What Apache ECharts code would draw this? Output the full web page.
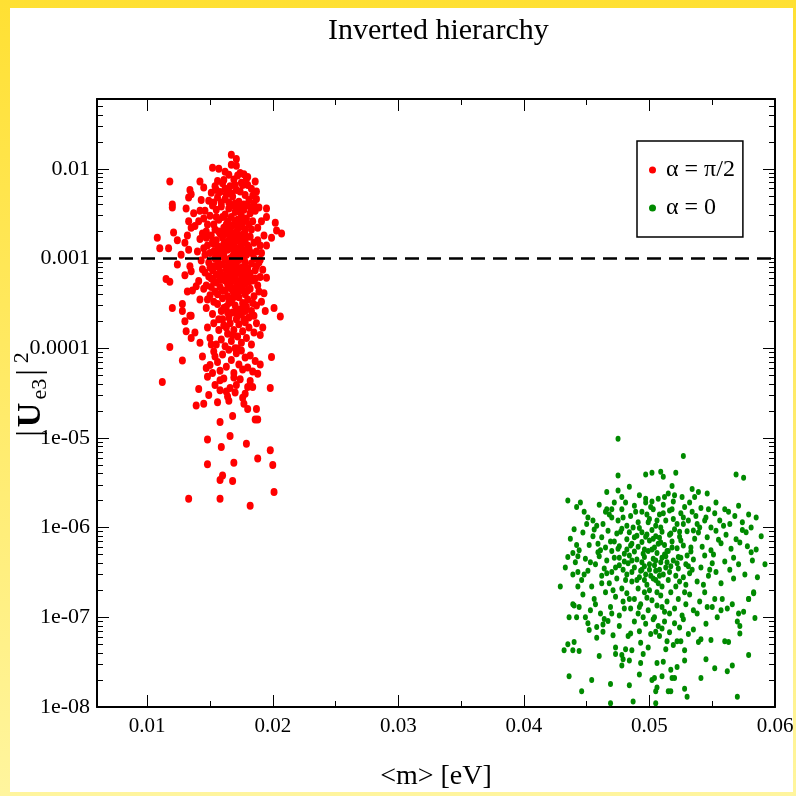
<!DOCTYPE html>
<html>
<head>
<meta charset="utf-8">
<script src="https://cdn.jsdelivr.net/npm/echarts@6/dist/echarts.min.js"></script>
<style>
  html, body { margin: 0; padding: 0; }
  body { width: 796px; height: 796px; background: linear-gradient(to bottom, #ffe033, #fff59e); position: relative; overflow: hidden; }
  #chart { position: absolute; left: 10px; top: 8px; width: 783px; height: 784px; background: #fff; }
</style>
</head>
<body>
<div id="chart"></div>
<script>
// alpha = pi/2 points: [<m> in eV, |Ue3|^2]
const redPoints = [
  [0.0108,1.7e-3],[0.0110,1.3e-3],[0.0117,1.3e-3],[0.0121,1.95e-3],[0.0124,1.6e-3],[0.0118,7.2e-3],[0.0120,4.0e-3],[0.0120,3.7e-3],
  [0.0115,5.9e-4],[0.0118,5.5e-4],[0.0120,2.8e-4],[0.0130,6.5e-4],[0.0124,8.6e-4],[0.0127,1.1e-3],[0.0131,3.6e-3],[0.0134,5.8e-3],
  [0.0133,4.8e-3],[0.0135,5.2e-3],[0.0142,7.2e-3],[0.0145,6.2e-3],[0.0143,4.5e-3],[0.0142,3.4e-3],[0.0133,2.6e-3],[0.0137,3.2e-3],
  [0.0135,2.2e-3],[0.0138,2.3e-3],[0.0132,1.8e-3],[0.0142,1.65e-3],[0.0130,1.5e-3],[0.0133,1.25e-3],[0.0134,8.2e-4],[0.0135,7.2e-4],
  [0.0139,4.9e-4],[0.0136,4.4e-4],[0.0132,4.3e-4],[0.0128,3.1e-4],[0.0128,2.6e-4],[0.0134,2.3e-4],
  [0.0167,1.43e-2],[0.0171,1.29e-2],[0.0167,1.11e-2],[0.0171,1.08e-2],[0.0152,1.03e-2],[0.0157,1.0e-2],[0.0162,9.3e-3],[0.0151,5.4e-3],
  [0.0149,4.4e-3],[0.0153,4.2e-3],[0.0154,6.4e-3],[0.0156,7.3e-3],[0.0161,7.5e-3],[0.0164,5.8e-3],[0.0174,9.0e-3],[0.0177,8.7e-3],
  [0.0180,8.1e-3],[0.0186,7.2e-3],[0.0187,5.6e-3],[0.0189,3.7e-3],[0.0195,3.6e-3],[0.0195,2.9e-3],[0.0202,2.5e-3],[0.0203,2.05e-3],
  [0.0207,1.9e-3],[0.0199,1.7e-3],[0.0193,1.8e-3],[0.0195,1.4e-3],[0.0190,1.4e-3],[0.0190,9.7e-4],[0.0187,8.2e-4],[0.0190,6.2e-4],
  [0.0195,6.1e-4],[0.0193,4.1e-4],[0.0194,2.6e-4],[0.0201,2.8e-4],[0.0206,2.25e-4],
  [0.0118,1.03e-4],[0.0128,7.3e-5],[0.0112,4.2e-5],[0.0130,2.0e-4],[0.0131,1.55e-4],[0.0135,1.3e-4],[0.0138,1.5e-4],[0.0135,2.3e-4],
  [0.0142,1.15e-4],[0.0144,8.1e-5],[0.0141,3.5e-5],[0.0139,2.3e-5],[0.0145,2.4e-5],[0.0149,3.0e-5],[0.0148,4.8e-5],[0.0147,6.0e-5],
  [0.0151,1.1e-4],[0.0154,8.1e-5],[0.0152,5.3e-5],[0.0154,3.9e-5],[0.0156,2.5e-5],[0.0158,3.4e-5],[0.0158,4.4e-5],[0.0165,2.6e-5],
  [0.0164,2.9e-5],[0.0166,3.6e-5],[0.0170,3.2e-5],[0.0171,3.9e-5],[0.0176,2.8e-5],[0.0177,2.4e-5],[0.0180,2.1e-5],[0.0180,3.7e-5],
  [0.0184,3.7e-5],[0.0182,4.3e-5],[0.0188,5.2e-5],[0.0190,6.6e-5],[0.0199,8.0e-5],[0.0198,3.6e-5],[0.0187,2.1e-5],[0.0188,1.6e-5],
  [0.0186,1.6e-5],[0.0168,1.75e-5],[0.0158,1.5e-5],[0.0166,1.05e-5],[0.0159,7.9e-6],[0.0148,9.6e-6],[0.0179,8.6e-6],[0.0198,7.3e-6],
  [0.0188,5.9e-6],[0.0200,5.0e-6],[0.0169,5.3e-6],[0.0148,5.1e-6],[0.0160,3.8e-6],[0.0158,3.4e-6],[0.0168,3.3e-6],[0.0201,2.5e-6],
  [0.0133,2.1e-6],[0.0158,2.1e-6],[0.0182,1.75e-6],
  [0.0158,5.5e-3],[0.0162,4.6e-3],[0.0166,6.4e-3],[0.0168,4.9e-3],[0.0171,5.8e-3],[0.0173,4.3e-3],[0.0176,6.6e-3],[0.0178,5.1e-3],
  [0.0181,4.5e-3],[0.0183,6.0e-3],[0.0169,7.6e-3],[0.0172,8.4e-3],[0.0175,7.0e-3],[0.0165,8.6e-3],[0.0160,6.9e-3],[0.0156,4.8e-3],
  [0.0163,5.2e-3],[0.0179,7.8e-3],[0.0184,5.0e-3],[0.0170,4.1e-3],
  [0.0150,3.0e-3],[0.0153,2.4e-3],[0.0155,3.5e-3],[0.0157,2.7e-3],[0.0159,3.8e-3],[0.0161,2.2e-3],[0.0162,3.1e-3],[0.0164,2.6e-3],
  [0.0165,3.6e-3],[0.0166,2.1e-3],[0.0167,2.9e-3],[0.0168,3.9e-3],[0.0169,2.4e-3],[0.0170,3.3e-3],[0.0171,2.0e-3],[0.0172,2.7e-3],
  [0.0173,3.7e-3],[0.0174,2.3e-3],[0.0175,3.0e-3],[0.0176,2.5e-3],[0.0177,3.5e-3],[0.0178,2.1e-3],[0.0179,2.8e-3],[0.0180,3.9e-3],
  [0.0181,2.4e-3],[0.0182,3.2e-3],[0.0184,2.6e-3],[0.0186,3.4e-3],[0.0188,2.2e-3],[0.0147,2.0e-3],[0.0152,3.9e-3],[0.0145,2.8e-3],
  [0.0163,2.0e-3],[0.0171,3.8e-3],
  [0.0148,1.4e-3],[0.0151,1.8e-3],[0.0153,1.2e-3],[0.0155,1.6e-3],[0.0156,1.05e-3],[0.0158,1.9e-3],[0.0159,1.3e-3],[0.0160,1.7e-3],
  [0.0161,1.1e-3],[0.0162,1.5e-3],[0.0163,1.9e-3],[0.0164,1.25e-3],[0.0165,1.6e-3],[0.0166,1.0e-3],[0.0167,1.4e-3],[0.0168,1.8e-3],
  [0.0169,1.15e-3],[0.0170,1.55e-3],[0.0171,1.95e-3],[0.0172,1.3e-3],[0.0173,1.7e-3],[0.0174,1.05e-3],[0.0175,1.45e-3],[0.0176,1.85e-3],
  [0.0177,1.2e-3],[0.0178,1.6e-3],[0.0179,1.1e-3],[0.0180,1.4e-3],[0.0182,1.75e-3],[0.0183,1.15e-3],[0.0185,1.5e-3],[0.0187,1.2e-3],
  [0.0165,1.3e-3],[0.0169,1.7e-3],[0.0173,1.1e-3],[0.0161,1.45e-3],[0.0177,1.5e-3],[0.0157,1.35e-3],
  [0.0146,7.0e-4],[0.0149,9.0e-4],[0.0151,6.0e-4],[0.0153,8.2e-4],[0.0155,5.4e-4],[0.0156,9.5e-4],[0.0158,7.1e-4],[0.0159,5.8e-4],
  [0.0160,8.6e-4],[0.0161,6.5e-4],[0.0162,9.8e-4],[0.0163,7.5e-4],[0.0164,5.2e-4],[0.0165,8.9e-4],[0.0166,6.8e-4],[0.0167,5.6e-4],
  [0.0168,9.2e-4],[0.0169,7.3e-4],[0.0170,6.1e-4],[0.0171,8.4e-4],[0.0172,5.3e-4],[0.0173,9.6e-4],[0.0174,7.0e-4],[0.0175,5.9e-4],
  [0.0176,8.0e-4],[0.0177,6.4e-4],[0.0178,9.1e-4],[0.0179,5.5e-4],[0.0180,7.7e-4],[0.0181,6.2e-4],[0.0183,8.8e-4],[0.0184,5.7e-4],
  [0.0186,7.4e-4],[0.0167,7.9e-4],[0.0163,6.0e-4],[0.0171,6.9e-4],[0.0158,8.5e-4],
  [0.0142,3.5e-4],[0.0145,4.6e-4],[0.0147,2.8e-4],[0.0150,3.9e-4],[0.0152,2.4e-4],[0.0154,4.3e-4],[0.0156,3.1e-4],[0.0158,4.8e-4],
  [0.0159,2.6e-4],[0.0160,3.6e-4],[0.0162,4.4e-4],[0.0163,2.9e-4],[0.0164,3.8e-4],[0.0165,2.2e-4],[0.0166,4.7e-4],[0.0167,3.3e-4],
  [0.0168,2.5e-4],[0.0169,4.1e-4],[0.0170,3.0e-4],[0.0171,4.9e-4],[0.0172,2.3e-4],[0.0173,3.7e-4],[0.0174,2.7e-4],[0.0175,4.5e-4],
  [0.0176,3.2e-4],[0.0177,2.1e-4],[0.0178,4.0e-4],[0.0179,2.9e-4],[0.0180,3.5e-4],[0.0182,4.6e-4],[0.0183,2.6e-4],[0.0185,3.8e-4],
  [0.0187,3.0e-4],[0.0189,4.3e-4],[0.0168,4.4e-4],[0.0161,2.8e-4],
  [0.0148,1.7e-4],[0.0150,1.3e-4],[0.0153,1.9e-4],[0.0155,1.1e-4],[0.0157,1.6e-4],[0.0159,1.25e-4],[0.0161,1.8e-4],[0.0162,1.05e-4],
  [0.0164,1.45e-4],[0.0166,1.9e-4],[0.0167,1.2e-4],[0.0169,1.6e-4],[0.0170,1.0e-4],[0.0172,1.35e-4],[0.0173,1.85e-4],[0.0175,1.15e-4],
  [0.0176,1.55e-4],[0.0178,1.95e-4],[0.0179,1.3e-4],[0.0181,1.7e-4],[0.0183,1.1e-4],[0.0185,1.5e-4],[0.0187,1.9e-4],[0.0190,1.4e-4],
  [0.0192,1.7e-4],[0.0168,1.4e-4],
  [0.0150,6.5e-5],[0.0153,9.2e-5],[0.0156,7.0e-5],[0.0158,5.6e-5],[0.0160,8.5e-5],[0.0163,6.2e-5],[0.0165,9.6e-5],[0.0167,7.4e-5],
  [0.0169,5.3e-5],[0.0171,8.8e-5],[0.0173,6.6e-5],[0.0175,9.4e-5],[0.0176,5.8e-5],[0.0178,7.9e-5],[0.0180,6.1e-5],[0.0182,8.3e-5],
  [0.0184,5.5e-5],[0.0186,7.2e-5],[0.0172,9.9e-5],
  [0.0161,4.6e-5],[0.0174,4.5e-5],[0.0178,3.1e-5],[0.0163,3.3e-5],[0.0169,4.7e-5],
  [0.0163,2.4e-3],[0.0166,1.8e-3],[0.0169,1.35e-3],[0.0171,1.05e-3],[0.0174,1.55e-3],[0.0176,1.25e-3],[0.0178,1.85e-3],[0.0181,1.3e-3],
  [0.0168,1.05e-3],[0.0172,1.8e-3],[0.0160,1.25e-3],[0.0164,8.0e-4],[0.0167,6.5e-4],[0.0170,9.0e-4],[0.0173,7.8e-4],[0.0175,6.6e-4],
  [0.0177,1.0e-3],[0.0179,7.3e-4],[0.0182,6.8e-4],[0.0166,5.1e-4],[0.0169,5.9e-4],[0.0172,4.1e-4],[0.0174,5.1e-4],[0.0176,4.4e-4],
  [0.0178,5.2e-4],[0.0180,4.4e-4],[0.0170,3.8e-4],[0.0165,3.2e-4],[0.0162,5.7e-4],[0.0158,6.3e-4],[0.0156,4.0e-4],[0.0160,4.4e-4],
  [0.0171,2.6e-4],[0.0175,2.4e-4],[0.0168,3.6e-4],[0.0164,2.5e-4],[0.0157,2.1e-4],[0.0153,3.3e-4],[0.0181,2.2e-4],[0.0184,3.2e-4],
  [0.0167,2.3e-3],[0.0170,2.6e-3],[0.0174,3.3e-3],[0.0165,4.2e-3],[0.0170,6.6e-3],[0.0177,4.0e-3],[0.0160,2.9e-3],[0.0157,2.0e-3],
  [0.0183,2.1e-3],[0.0185,4.1e-3],[0.0176,2.8e-4],[0.0163,1.7e-4],[0.0171,2.1e-4],[0.0178,2.6e-4],[0.0160,2.1e-4],[0.0166,1.6e-3],
  [0.0173,2.2e-3],
  [0.0141,2.6e-3],[0.0144,1.9e-3],[0.0146,3.4e-3],[0.0148,2.4e-3],[0.0150,1.15e-3],[0.0152,1.55e-3],[0.0154,2.1e-3],[0.0155,2.9e-3],
  [0.0140,1.2e-3],[0.0143,9.5e-4],[0.0145,1.3e-3],[0.0147,1.7e-3],[0.0149,6.3e-4],[0.0152,7.4e-4],[0.0154,1.0e-3],[0.0156,1.25e-3],
  [0.0157,8.0e-4],[0.0159,1.05e-3],[0.0141,5.6e-4],[0.0144,7.6e-4],[0.0147,5.0e-4],[0.0150,8.0e-4],[0.0153,5.6e-4],[0.0148,3.5e-4],
  [0.0151,4.8e-4],[0.0155,6.6e-4],[0.0185,1.0e-3],[0.0186,6.0e-4],[0.0188,1.6e-3],[0.0189,9.0e-4],[0.0191,1.15e-3],[0.0192,7.5e-4],
  [0.0191,2.6e-3],[0.0187,4.6e-3],[0.0183,3.5e-3],[0.0181,5.5e-4],[0.0188,5.0e-4],[0.0191,3.3e-4],[0.0185,2.3e-4],[0.0159,4.2e-3],
  [0.0155,5.8e-3],[0.0162,6.0e-3],[0.0167,5.3e-3],[0.0174,5.6e-3],[0.0180,6.6e-3],[0.0146,1.1e-3],[0.0153,1.45e-3]
];

// alpha = 0 points
const greenPoints = [
  [0.0475,9.8e-6],[0.0527,6.3e-6],[0.0475,3.8e-6],[0.0475,2.6e-6],[0.0497,3.9e-6],[0.0502,4.1e-6],[0.0509,4.2e-6],[0.0511,3.7e-6],
  [0.0521,4.1e-6],[0.0518,2.9e-6],[0.0484,2.85e-6],[0.0466,2.5e-6],[0.0435,2.0e-6],[0.0442,1.7e-6],[0.0569,3.9e-6],[0.0575,3.6e-6],
  [0.0571,1.75e-6],[0.0585,1.3e-6],[0.0581,1.0e-6],[0.0585,5.7e-7],[0.0582,4.3e-7],[0.0592,3.9e-7],[0.0583,1.9e-7],[0.0579,1.6e-7],
  [0.0429,2.2e-7],[0.0435,4.7e-7],[0.0439,5.2e-7],[0.0443,4.8e-7],[0.0439,3.0e-7],[0.0443,3.2e-7],[0.0442,6.4e-7],[0.0440,9.6e-7],
  [0.0451,1.3e-6],[0.0466,1.6e-6],[0.0481,1.9e-6],[0.0497,2.1e-6],[0.0507,2.1e-6],[0.0515,2.4e-6],[0.0520,2.3e-6],[0.0534,2.7e-6],
  [0.0539,2.5e-6],[0.0546,2.4e-6],[0.0536,2.2e-6],[0.0553,1.9e-6],
  [0.0436,2.2e-8],[0.0446,1.5e-8],[0.0454,2.0e-8],[0.0469,1.1e-8],[0.0469,1.8e-8],[0.0484,1.75e-8],[0.0487,1.15e-8],[0.0505,1.1e-8],
  [0.0530,1.3e-8],[0.0528,1.6e-8],[0.0517,1.5e-8],[0.0515,1.5e-8],[0.0505,1.5e-8],[0.0506,1.65e-8],[0.0502,2.0e-8],[0.0504,2.1e-8],
  [0.0510,2.2e-8],[0.0518,2.1e-8],[0.0520,2.1e-8],[0.0541,2.1e-8],[0.0570,1.3e-8],[0.0492,2.3e-8],[0.0460,3.7e-8],[0.0478,2.9e-8],
  [0.0484,3.3e-8],[0.0493,3.1e-8],[0.0506,3.1e-8],[0.0511,3.2e-8],[0.0517,2.6e-8],[0.0522,2.8e-8],[0.0528,3.3e-8],[0.0545,3.4e-8],
  [0.0552,2.7e-8],[0.0562,2.5e-8],[0.0566,2.9e-8],[0.0579,3.8e-8],[0.0432,4.3e-8],[0.0435,5.0e-8],[0.0440,5.3e-8],[0.0439,4.3e-8],
  [0.0444,4.2e-8],[0.0436,1.0e-7],[0.0442,1.0e-7],[0.0440,1.35e-7],[0.0444,1.3e-7],[0.0449,1.0e-7],[0.0451,8.6e-8],[0.0452,7.2e-8],
  [0.0458,5.9e-8],[0.0463,8.3e-8],[0.0463,6.9e-8],[0.0467,9.1e-8],[0.0471,6.3e-8],[0.0473,4.6e-8],[0.0473,3.9e-8],[0.0478,3.8e-8],
  [0.0481,4.4e-8],[0.0479,3.4e-8],[0.0483,6.2e-8],[0.0486,4.3e-8],[0.0493,5.2e-8],[0.0495,3.9e-8],[0.0499,4.6e-8],[0.0501,6.5e-8],
  [0.0505,6.9e-8],[0.0508,6.2e-8],[0.0510,7.5e-8],[0.0513,4.4e-8],[0.0514,5.4e-8],[0.0519,4.9e-8],[0.0522,5.4e-8],[0.0525,5.4e-8],
  [0.0528,4.3e-8],[0.0531,6.5e-8],[0.0535,7.3e-8],[0.0539,5.3e-8],[0.0541,5.7e-8],[0.0549,5.6e-8],[0.0560,5.4e-8],[0.0563,5.3e-8],
  [0.0572,6.6e-8],[0.0572,8.0e-8],[0.0570,9.0e-8],[0.0571,1.1e-7],[0.0575,1.15e-7],[0.0584,9.8e-8],[0.0579,1.6e-7],[0.0583,1.85e-7],
  [0.0562,1.25e-7],[0.0557,1.2e-7],[0.0558,1.6e-7],[0.0554,1.0e-7],[0.0546,1.3e-7],[0.0550,1.3e-7],[0.0538,1.1e-7],
  [0.0448,1.5e-6],[0.0455,1.2e-6],[0.0460,1.8e-6],[0.0463,1.1e-6],[0.0468,1.4e-6],[0.0472,1.9e-6],[0.0475,1.2e-6],[0.0478,1.6e-6],
  [0.0482,1.05e-6],[0.0485,1.35e-6],[0.0488,1.75e-6],[0.0491,1.15e-6],[0.0494,1.5e-6],[0.0497,1.9e-6],[0.0500,1.25e-6],[0.0503,1.6e-6],
  [0.0505,1.05e-6],[0.0508,1.4e-6],[0.0511,1.8e-6],[0.0513,1.2e-6],[0.0516,1.55e-6],[0.0519,1.95e-6],[0.0522,1.1e-6],[0.0525,1.45e-6],
  [0.0528,1.7e-6],[0.0531,1.2e-6],[0.0534,1.5e-6],[0.0538,1.1e-6],[0.0541,1.65e-6],[0.0545,1.3e-6],[0.0549,1.0e-6],[0.0552,1.45e-6],
  [0.0556,1.2e-6],[0.0560,1.6e-6],[0.0564,1.1e-6],[0.0568,1.35e-6],[0.0574,1.15e-6],[0.0579,1.4e-6],[0.0458,1.05e-6],[0.0470,1.6e-6],
  [0.0502,1.95e-6],[0.0527,1.3e-6],
  [0.0437,7.5e-7],[0.0444,5.6e-7],[0.0447,8.8e-7],[0.0452,6.4e-7],[0.0456,9.5e-7],[0.0459,5.3e-7],[0.0462,7.8e-7],[0.0465,6.0e-7],
  [0.0467,9.2e-7],[0.0470,5.5e-7],[0.0472,7.0e-7],[0.0474,8.6e-7],[0.0476,6.2e-7],[0.0478,9.7e-7],[0.0480,5.1e-7],[0.0482,7.4e-7],
  [0.0484,8.9e-7],[0.0486,6.6e-7],[0.0488,5.4e-7],[0.0490,8.1e-7],[0.0492,9.9e-7],[0.0494,6.9e-7],[0.0496,5.7e-7],[0.0498,8.4e-7],
  [0.0500,7.2e-7],[0.0502,9.4e-7],[0.0504,6.0e-7],[0.0506,5.2e-7],[0.0508,7.7e-7],[0.0510,9.0e-7],[0.0512,6.4e-7],[0.0514,5.5e-7],
  [0.0516,8.3e-7],[0.0518,7.0e-7],[0.0520,9.6e-7],[0.0522,5.9e-7],[0.0524,7.9e-7],[0.0527,6.3e-7],[0.0530,9.1e-7],[0.0533,5.4e-7],
  [0.0536,7.5e-7],[0.0539,8.8e-7],[0.0542,6.1e-7],[0.0546,7.8e-7],[0.0549,5.6e-7],[0.0553,9.2e-7],[0.0557,6.7e-7],[0.0561,8.3e-7],
  [0.0565,5.8e-7],[0.0569,7.4e-7],[0.0574,9.4e-7],[0.0578,6.2e-7],[0.0589,8.0e-7],[0.0505,8.0e-7],[0.0491,6.1e-7],[0.0509,6.8e-7],
  [0.0433,3.6e-7],[0.0441,4.1e-7],[0.0446,2.6e-7],[0.0449,4.5e-7],[0.0451,3.3e-7],[0.0454,2.2e-7],[0.0457,3.9e-7],[0.0460,4.8e-7],
  [0.0462,2.9e-7],[0.0464,3.5e-7],[0.0466,4.3e-7],[0.0468,2.4e-7],[0.0470,3.2e-7],[0.0472,4.6e-7],[0.0474,2.7e-7],[0.0476,3.8e-7],
  [0.0478,2.1e-7],[0.0480,4.2e-7],[0.0482,3.0e-7],[0.0484,4.9e-7],[0.0486,2.5e-7],[0.0488,3.6e-7],[0.0490,4.4e-7],[0.0492,2.8e-7],
  [0.0494,3.4e-7],[0.0496,4.7e-7],[0.0498,2.3e-7],[0.0500,3.9e-7],[0.0501,2.9e-7],[0.0503,4.5e-7],[0.0505,3.3e-7],[0.0507,2.4e-7],
  [0.0509,4.1e-7],[0.0511,3.0e-7],[0.0513,4.8e-7],[0.0515,2.6e-7],[0.0517,3.7e-7],[0.0519,4.3e-7],[0.0521,2.2e-7],[0.0523,3.5e-7],
  [0.0525,4.6e-7],[0.0527,2.8e-7],[0.0529,3.9e-7],[0.0532,3.1e-7],[0.0535,4.4e-7],[0.0538,2.5e-7],[0.0541,3.6e-7],[0.0544,4.9e-7],
  [0.0547,2.9e-7],[0.0550,4.0e-7],[0.0553,3.2e-7],[0.0557,2.4e-7],[0.0560,4.2e-7],[0.0564,3.4e-7],[0.0567,2.7e-7],[0.0571,3.9e-7],
  [0.0576,3.0e-7],[0.0486,3.2e-7],[0.0497,3.0e-7],[0.0504,3.8e-7],[0.0510,2.2e-7],[0.0494,4.1e-7],
  [0.0439,1.4e-7],[0.0447,1.8e-7],[0.0453,1.2e-7],[0.0456,1.6e-7],[0.0461,1.1e-7],[0.0465,1.9e-7],[0.0469,1.3e-7],[0.0473,1.7e-7],
  [0.0476,1.05e-7],[0.0479,1.5e-7],[0.0482,1.85e-7],[0.0485,1.25e-7],[0.0488,1.6e-7],[0.0491,1.1e-7],[0.0493,1.4e-7],[0.0496,1.9e-7],
  [0.0499,1.2e-7],[0.0502,1.55e-7],[0.0504,1.0e-7],[0.0506,1.35e-7],[0.0509,1.75e-7],[0.0512,1.15e-7],[0.0514,1.5e-7],[0.0517,1.9e-7],
  [0.0520,1.25e-7],[0.0523,1.6e-7],[0.0526,1.05e-7],[0.0529,1.4e-7],[0.0532,1.8e-7],[0.0535,1.2e-7],[0.0540,1.5e-7],[0.0544,1.9e-7],
  [0.0552,1.6e-7],[0.0566,1.4e-7],[0.0498,1.65e-7],[0.0510,1.3e-7],
  [0.0476,8.0e-8],[0.0488,9.0e-8],[0.0492,7.0e-8],[0.0497,8.5e-8],[0.0503,9.5e-8],[0.0507,8.0e-8],[0.0512,9.0e-8],[0.0516,6.8e-8],
  [0.0520,8.6e-8],[0.0524,7.7e-8],[0.0527,9.5e-8],[0.0545,8.5e-8],[0.0485,6.6e-8],[0.0458,7.8e-8],
  [0.0471,2.0e-7],[0.0473,3.6e-7],[0.0475,5.8e-7],[0.0477,9.0e-7],[0.0479,1.3e-6],[0.0481,2.6e-7],[0.0483,4.0e-7],[0.0485,6.3e-7],
  [0.0487,1.0e-6],[0.0489,1.5e-6],[0.0491,2.1e-7],[0.0493,3.3e-7],[0.0495,5.1e-7],[0.0497,7.9e-7],[0.0499,1.15e-6],[0.0501,1.7e-6],
  [0.0503,2.7e-7],[0.0505,4.3e-7],[0.0507,6.6e-7],[0.0509,1.0e-6],[0.0511,1.45e-6],[0.0513,3.6e-7],[0.0515,5.5e-7],[0.0517,8.6e-7],
  [0.0519,1.25e-6],[0.0521,2.9e-7],[0.0523,4.7e-7],[0.0525,7.2e-7],[0.0527,1.1e-6],[0.0529,2.3e-7],[0.0531,3.7e-7],[0.0533,6.0e-7],
  [0.0535,9.3e-7],[0.0537,1.35e-6],[0.0490,2.6e-7],[0.0496,3.7e-7],[0.0502,5.7e-7],[0.0508,3.4e-7],[0.0514,4.1e-7],[0.0500,2.0e-7],
  [0.0506,1.9e-7],[0.0484,1.6e-7],[0.0492,1.3e-7],[0.0516,1.1e-7],[0.0528,1.9e-7],[0.0543,2.3e-7],[0.0548,3.4e-7],[0.0551,5.0e-7],
  [0.0555,7.3e-7],[0.0559,1.05e-6],[0.0563,1.5e-6],[0.0567,4.6e-7],[0.0572,6.8e-7],[0.0577,8.9e-7],[0.0581,5.3e-7],[0.0586,2.8e-7],
  [0.0462,2.4e-7],[0.0466,3.1e-7],[0.0459,6.6e-7],[0.0455,8.0e-7],[0.0450,1.1e-6],[0.0445,1.9e-6],[0.0453,4.1e-7],[0.0448,3.0e-7],
  [0.0443,2.2e-7],[0.0457,1.4e-7],[0.0464,9.6e-8],[0.0470,1.1e-7],[0.0480,1.25e-7],[0.0495,1.0e-7],[0.0505,2.6e-7],[0.0512,5.0e-7],
  [0.0518,6.0e-7],[0.0524,2.5e-7],[0.0530,4.9e-7],[0.0534,3.4e-7],[0.0540,1.0e-6],[0.0544,1.2e-6],[0.0547,1.6e-6],[0.0532,1.9e-6],
  [0.0526,2.2e-6],[0.0512,2.2e-6],[0.0492,2.3e-6],[0.0478,2.2e-6],[0.0470,1.3e-6],[0.0465,1.5e-6],[0.0498,1.4e-6],[0.0506,1.2e-6],
  [0.0518,1.6e-6],[0.0524,9.0e-7],[0.0488,7.8e-7],[0.0482,5.7e-7],[0.0476,4.6e-7],[0.0469,7.0e-7],[0.0461,5.6e-7],[0.0503,7.5e-7],
  [0.0510,4.6e-7],[0.0499,5.5e-7],[0.0494,8.9e-7],[0.0516,3.2e-7],[0.0522,4.0e-7],[0.0508,2.9e-7],[0.0500,3.4e-7],[0.0496,2.6e-7],
  [0.0486,4.3e-7],[0.0479,3.4e-7]
];

const xMin = 0.006, xMax = 0.06;
const yMin = 1e-8, yMax = 0.06;
const xMajorTicks = [0.01, 0.02, 0.03, 0.04, 0.05, 0.06];
const xMinorTicks = [0.015, 0.025, 0.035, 0.045, 0.055];
const yMajorTicks = [1e-8, 1e-7, 1e-6, 1e-5, 1e-4, 1e-3, 1e-2];
const yMinorTicks = [];
yMajorTicks.forEach(d => {
  for (let k = 2; k <= 9; k++) {
    const v = d * k;
    if (v < yMax) yMinorTicks.push(v);
  }
});
const cutLevel = 1e-3;

const serif = 'Liberation Serif';

function yLabel(v) {
  const e = Math.round(Math.log10(v));
  if (e >= -4) return (Math.pow(10, e)).toFixed(-e);
  return '1e-0' + (-e);
}

function xAxisOf(pos, ticks, len, labels, line) {
  return {
    type: 'value', position: pos, min: xMin, max: xMax,
    splitLine: { show: false },
    axisLine: { show: line, onZero: false, lineStyle: { color: '#000', width: 2 } },
    axisTick: { show: true, inside: true, length: len, customValues: ticks, lineStyle: { color: '#000', width: 1 } },
    axisLabel: labels ? {
      show: true, customValues: xMajorTicks, margin: 9, color: '#000', fontFamily: serif, fontSize: 21,
      formatter: v => String(Math.round(v * 100) / 100)
    } : { show: false }
  };
}

function yAxisOf(pos, ticks, len, labels, line) {
  return {
    type: 'log', logBase: 10, position: pos, min: yMin, max: yMax,
    splitLine: { show: false },
    axisLine: { show: line, onZero: false, lineStyle: { color: '#000', width: 2 } },
    axisTick: { show: true, inside: true, length: len, customValues: ticks, lineStyle: { color: '#000', width: 1 } },
    axisLabel: labels ? {
      show: true, customValues: yMajorTicks, margin: 7, color: '#000', fontFamily: serif, fontSize: 22,
      formatter: yLabel
    } : { show: false }
  };
}

const chart = echarts.init(document.getElementById('chart'));

const x0 = xAxisOf('bottom', xMajorTicks, 12, true, true);
x0.name = '<m> [eV]';
x0.nameLocation = 'middle';
x0.nameGap = 56;
x0.nameMoveOverlap = false;
x0.nameTextStyle = { color: '#000', fontFamily: serif, fontSize: 28 };

const y0 = yAxisOf('left', yMajorTicks, 12, true, true);
y0.name = '{a||}{u|U}{s|e3}{a||}{p|2}';
y0.nameLocation = 'middle';
y0.nameRotate = 90;
y0.nameGap = 44;
y0.nameMoveOverlap = false;
y0.nameTextStyle = {
  color: '#000', fontFamily: serif, fontSize: 33, lineHeight: 44,
  padding: [0, 0, 0, 14],
  rich: {
    a: { fontFamily: serif, fontSize: 33, color: '#000', lineHeight: 44, verticalAlign: 'middle', padding: [0, 3, 0, 3] },
    u: { fontFamily: serif, fontSize: 34, fontWeight: 'bold', color: '#000', lineHeight: 44, verticalAlign: 'middle', padding: [0, 2, 0, 0] },
    s: { fontFamily: serif, fontSize: 22, color: '#000', lineHeight: 44, verticalAlign: 'bottom', padding: [0, 0, 2, 1] },
    p: { fontFamily: serif, fontSize: 22, color: '#000', lineHeight: 44, verticalAlign: 'top', padding: [2, 0, 0, 3] }
  }
};

chart.setOption({
  animation: false,
  backgroundColor: '#fff',
  title: {
    text: 'Inverted hierarchy',
    left: 313, top: 3,
    textStyle: { color: '#000', fontFamily: serif, fontSize: 30, fontWeight: 'normal' }
  },
  legend: {
    orient: 'vertical',
    left: 627, top: 133,
    padding: [17, 8, 17, 12],
    itemGap: 14,
    itemWidth: 7, itemHeight: 7,
    borderColor: '#000', borderWidth: 1.5,
    textStyle: { color: '#000', fontFamily: serif, fontSize: 24, padding: [0, 0, 0, 5] },
    data: ['α = π/2', 'α = 0']
  },
  grid: { left: 87, top: 91, width: 678, height: 608, containLabel: false, outerBoundsMode: 'none' },
  xAxis: [
    x0,
    xAxisOf('bottom', xMinorTicks, 6, false, false),
    xAxisOf('top', xMajorTicks, 12, false, true),
    xAxisOf('top', xMinorTicks, 6, false, false)
  ],
  yAxis: [
    y0,
    yAxisOf('left', yMinorTicks, 6, false, false),
    yAxisOf('right', yMajorTicks, 12, false, true),
    yAxisOf('right', yMinorTicks, 6, false, false)
  ],
  series: [
    {
      name: 'α = π/2', type: 'scatter', xAxisIndex: 0, yAxisIndex: 0,
      symbol: 'circle', symbolSize: [7, 8],
      itemStyle: { color: '#ff0000', opacity: 1 },
      data: redPoints
    },
    {
      name: 'α = 0', type: 'scatter', xAxisIndex: 0, yAxisIndex: 0,
      symbol: 'circle', symbolSize: [5, 6],
      itemStyle: { color: '#008a00', opacity: 1 },
      data: greenPoints
    },
    {
      name: 'cut', type: 'line', xAxisIndex: 0, yAxisIndex: 0,
      silent: true, symbol: 'none', z: 5,
      lineStyle: { color: '#000', width: 2.5, type: [14, 8] },
      data: [[xMin, cutLevel], [xMax, cutLevel]]
    }
  ]
});
</script>
</body>
</html>
